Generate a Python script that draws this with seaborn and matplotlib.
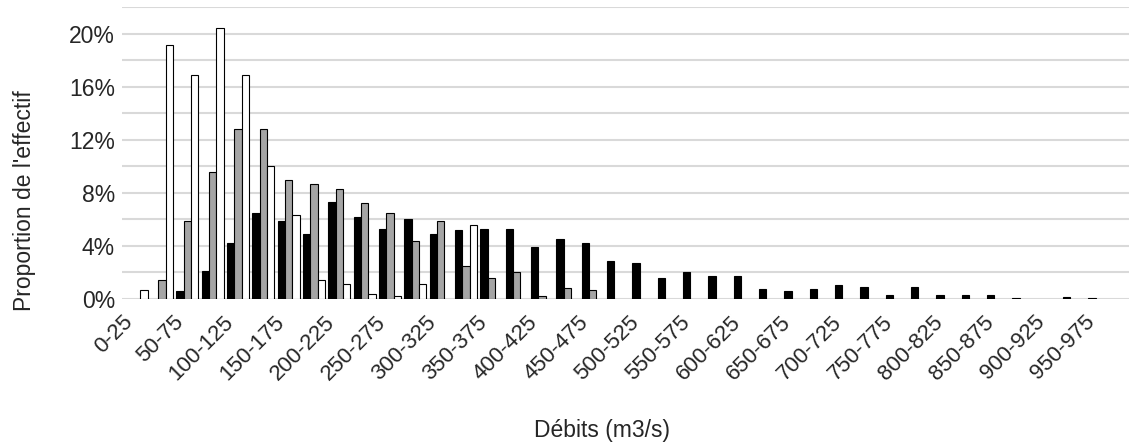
import matplotlib
matplotlib.use("Agg")
import matplotlib.pyplot as plt
import seaborn as sns
import pandas as pd
import numpy as np

# ---- data ----
categories = [f"{i*25}-{(i+1)*25}" for i in range(40)]
serie_noire = [0, 0, 0.6, 2.1, 4.2, 6.5, 5.9, 4.9, 7.3, 6.2,
               5.3, 6.0, 4.9, 5.2, 5.3, 5.3, 3.9, 4.5, 4.2, 2.9,
               2.7, 1.6, 2.0, 1.75, 1.75, 0.73, 0.58, 0.73, 1.03, 0.88,
               0.3, 0.88, 0.3, 0.3, 0.3, 0.05, 0, 0.15, 0.05, 0]
serie_grise = [0, 1.4, 5.9, 9.6, 12.8, 12.8, 9.0, 8.7, 8.3, 7.2,
               6.5, 4.4, 5.9, 2.5, 1.6, 2.0, 0.2, 0.85, 0.7, 0,
               0, 0, 0, 0, 0, 0, 0, 0, 0, 0,
               0, 0, 0, 0, 0, 0, 0, 0, 0, 0]
serie_blanche = [0.7, 19.1, 16.9, 20.4, 16.9, 10.0, 6.3, 1.4, 1.1, 0.35,
                 0.25, 1.1, 0, 5.6, 0, 0, 0, 0, 0, 0,
                 0, 0, 0, 0, 0, 0, 0, 0, 0, 0,
                 0, 0, 0, 0, 0, 0, 0, 0, 0, 0]
series_names = ["Série 1", "Série 2", "Série 3"]
tick_labels = categories[::2]

rows = []
for name, vals in zip(series_names, [serie_noire, serie_grise, serie_blanche]):
    for c, v in zip(categories, vals):
        if v > 0:
            rows.append({"cat": c, "serie": name, "val": v / 100.0})
df = pd.DataFrame(rows)

sns.set_theme(style="white")
plt.rcParams['font.family'] = ['Liberation Sans', 'DejaVu Sans']
text_color = "#262626"

fig = plt.figure(figsize=(11.29, 4.46), dpi=100)
ax = fig.add_axes([122/1129, (446-299)/446, (1129-122)/1129, 292/446])

sns.barplot(data=df, x="cat", y="val", hue="serie", order=categories,
            hue_order=series_names,
            palette=["#000000", "#a5a5a5", "#ffffff"],
            edgecolor="black", linewidth=0.8, width=0.865, gap=0,
            errorbar=None, legend=False, ax=ax, zorder=3)

ax.set_xlim(-0.58, 39.17)
ax.set_ylim(0, 0.22)
yt = np.arange(0, 0.2201, 0.02)
ax.set_yticks(yt)
ax.set_yticklabels([f"{int(round(t*100))}%" if int(round(t*100)) % 4 == 0 else "" for t in yt],
                   fontsize=16.5, color=text_color)
ax.grid(axis="y", color="#d9d9d9", linewidth=1.5, zorder=0)
ax.set_axisbelow(True)
for s in ax.spines.values():
    s.set_visible(False)

ax.set_xticks(range(0, 40, 2))
ax.set_xticklabels(tick_labels, rotation=45, ha="right", va="top",
                   fontsize=16, color=text_color)
ax.tick_params(axis="both", length=0)
ax.tick_params(axis="y", pad=5)
ax.tick_params(axis="x", pad=9)

ax.set_xlabel("Débits (m3/s)", fontsize=16.5, color=text_color)
ax.xaxis.set_label_coords(0.477, -0.449)
ax.xaxis.label.set_va("center")
ax.set_ylabel("Proportion de l'effectif", fontsize=16.5, color=text_color)
ax.yaxis.set_label_coords(-0.0973, 0.336)
ax.yaxis.label.set_va("center")

fig.savefig("out.png", dpi=100)
